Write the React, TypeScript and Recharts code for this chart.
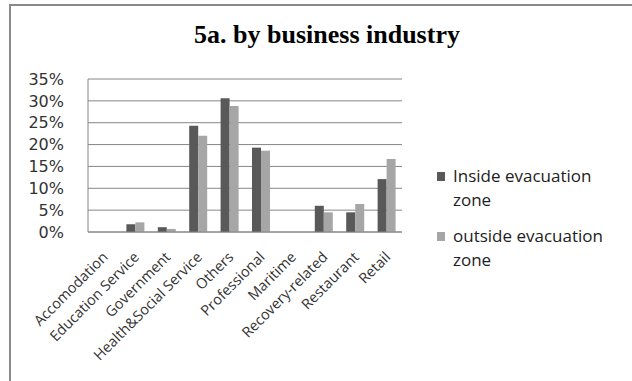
import { BarChart, Bar, XAxis, YAxis, CartesianGrid } from 'recharts';

const categories = [
  'Accomodation',
  'Education Service',
  'Government',
  'Health&Social Service',
  'Others',
  'Professional',
  'Maritime',
  'Recovery-related',
  'Restaurant',
  'Retail',
];
const insideZone = [0, 1.8, 1.1, 24.3, 30.6, 19.3, 0, 6.0, 4.5, 12.1];
const outsideZone = [0, 2.2, 0.7, 22.0, 28.8, 18.6, 0, 4.5, 6.4, 16.7];
const yTicks = [0, 5, 10, 15, 20, 25, 30, 35];

const seriesNames = ['Inside evacuation zone', 'outside evacuation zone'];
const seriesColors = ['#595959', '#a6a6a6'];

const data = categories.map((name, i) => ({
  name,
  inside: insideZone[i],
  outside: outsideZone[i],
}));

const CategoryTick = (props: any) => {
  const { x, y, payload } = props;
  return (
    <g transform={`translate(${x + 5},${y + 18})`}>
      <text
        x={0}
        y={0}
        textAnchor="end"
        transform="rotate(-45)"
        fill="#333"
        fontSize={14.5}
        fontFamily="'Open Sans', sans-serif"
      >
        {payload.value}
      </text>
    </g>
  );
};

export default function App() {
  return (
    <div style={{ position: 'fixed', left: 0, top: 0, width: 632, height: 381, background: '#fff', overflow: 'hidden' }}>
      <div
        style={{
          position: 'absolute',
          left: 9,
          top: 4,
          width: 660,
          height: 420,
          border: '2px solid #8a8a8a',
        }}
      />
      <div
        style={{
          position: 'absolute',
          left: 0,
          width: 654,
          top: 22,
          textAlign: 'center',
          fontFamily: "'Liberation Serif', 'Times New Roman', serif",
          fontWeight: 'bold',
          fontSize: 26,
          lineHeight: '26px',
          color: '#000',
        }}
      >
        5a. by business industry
      </div>
      <div style={{ position: 'absolute', left: 0, top: 0 }}>
        <BarChart
          width={632}
          height={381}
          data={data}
          margin={{ top: 79, right: 230, bottom: 29, left: 28 }}
          barGap={0}
          barSize={9}
        >
          <CartesianGrid vertical={false} stroke="#868686" />
          <XAxis
            dataKey="name"
            interval={0}
            tickLine={false}
            axisLine={{ stroke: '#868686' }}
            tick={<CategoryTick />}
            height={120}
          />
          <YAxis
            domain={[0, 35]}
            ticks={yTicks}
            interval={0}
            tickFormatter={(v: number) => `${v}%`}
            tickLine={false}
            axisLine={{ stroke: '#868686' }}
            width={60}
            tickMargin={18}
            tick={{ fill: '#333', fontSize: 16, fontFamily: "'DejaVu Sans', sans-serif" }}
          />
          <Bar dataKey="inside" name={seriesNames[0]} fill={seriesColors[0]} isAnimationActive={false} />
          <Bar dataKey="outside" name={seriesNames[1]} fill={seriesColors[1]} isAnimationActive={false} />
        </BarChart>
      </div>
      <div
        style={{
          position: 'absolute',
          left: 437,
          top: 164,
          width: 190,
          fontFamily: "'Open Sans', sans-serif",
          fontSize: 17,
          color: '#222',
        }}
      >
        {seriesNames.map((name, i) => (
          <div key={name} style={{ display: 'flex', alignItems: 'flex-start', marginBottom: 12 }}>
            <span
              style={{
                width: 8,
                height: 9,
                background: seriesColors[i],
                display: 'inline-block',
                marginTop: 8,
                marginRight: 8,
                flexShrink: 0,
              }}
            />
            <span style={{ lineHeight: '24px', width: 170 }}>{name}</span>
          </div>
        ))}
      </div>
    </div>
  );
}
